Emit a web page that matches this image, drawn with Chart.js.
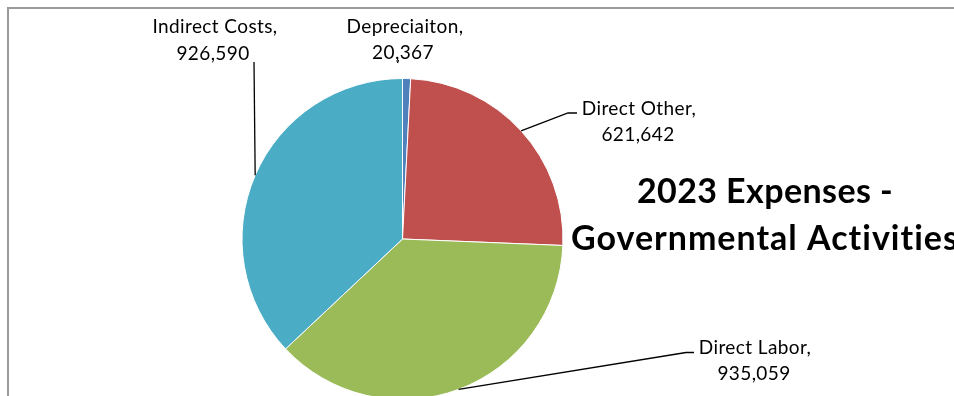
<!DOCTYPE html>
<html>
<head>
<meta charset="utf-8">
<script src="https://cdn.jsdelivr.net/npm/chart.js@4/dist/chart.umd.min.js"></script>
<style>
  html, body { margin: 0; padding: 0; background: #fff; overflow: hidden; }
  #wrap { width: 954px; height: 420px; }
</style>
</head>
<body>
<div id="wrap"><canvas id="c" width="954" height="420"></canvas></div>
<script>
// ---- data ----
const categories = ["Depreciaiton", "Direct Other", "Direct Labor", "Indirect Costs"];
const values = [20367, 621642, 935059, 926590];
const colors = ["#4F81BD", "#C0504D", "#9BBB59", "#4BACC6"];
const titleLines = ["2023 Expenses -", "Governmental Activities"];

// ---- layout (label placement) ----
const labelLayout = [
  { l1: [405, 33], l2: [403, 59], leader: "tick", pts: [[397.5, 63], [398.5, 60]] },
  { l1: [639, 115], l2: [638, 141], leader: "edge", pts: [[568, 113], [577, 113]] },
  { l1: [755, 354], l2: [754, 380], leader: "edge", pts: [[686, 352.5], [694, 352.5]] },
  { l1: [215, 32.5], l2: [213, 60], leader: "edge", pts: [[254, 62]] }
];

const fmt = v => v.toLocaleString("en-US");
const labelFont = '19px Lato, "Open Sans", sans-serif';
const titleFont = 'bold 34px Lato, "Open Sans", sans-serif';

const decor = {
  id: "decor",
  beforeDraw(chart) {
    const ctx = chart.ctx;
    ctx.save();
    ctx.fillStyle = "#ffffff";
    ctx.fillRect(0, 0, chart.width, chart.height);
    ctx.fillStyle = "#9a9a9a";
    ctx.fillRect(7, 7, chart.width - 7, 2);
    ctx.fillRect(7, 7, 2, chart.height - 7);
    ctx.restore();
  },
  afterDraw(chart) {
    const ctx = chart.ctx;
    const meta = chart.getDatasetMeta(0);
    ctx.save();
    // leader lines
    ctx.strokeStyle = "#000";
    ctx.lineWidth = 1.3;
    meta.data.forEach((arc, i) => {
      const L = labelLayout[i];
      const p = arc.getProps(["x", "y", "startAngle", "endAngle", "outerRadius"], true);
      ctx.beginPath();
      if (L.leader === "edge") {
        const mid = (p.startAngle + p.endAngle) / 2;
        ctx.moveTo(p.x + Math.cos(mid) * p.outerRadius, p.y + Math.sin(mid) * p.outerRadius);
        L.pts.forEach(pt => ctx.lineTo(pt[0], pt[1]));
      } else {
        ctx.moveTo(L.pts[0][0], L.pts[0][1]);
        ctx.lineTo(L.pts[1][0], L.pts[1][1]);
      }
      ctx.stroke();
    });
    // data labels
    ctx.fillStyle = "#000";
    ctx.font = labelFont;
    ctx.letterSpacing = "0.4px";
    ctx.textAlign = "center";
    ctx.textBaseline = "alphabetic";
    categories.forEach((cat, i) => {
      const L = labelLayout[i];
      ctx.fillText(cat + ",", L.l1[0], L.l1[1]);
      ctx.fillText(fmt(values[i]), L.l2[0], L.l2[1]);
    });
    // title
    ctx.font = titleFont;
    ctx.letterSpacing = "0.4px";
    ctx.fillText(titleLines[0], 765, 203);
    ctx.textAlign = "left";
    ctx.letterSpacing = "1px";
    ctx.fillText(titleLines[1], 571, 250);
    ctx.restore();
  }
};

new Chart(document.getElementById("c"), {
  type: "pie",
  data: {
    labels: categories,
    datasets: [{
      data: values,
      backgroundColor: colors,
      borderColor: "#ffffff",
      borderWidth: 1,
      hoverOffset: 0
    }]
  },
  options: {
    responsive: false,
    animation: false,
    events: [],
    layout: { padding: { top: 78, bottom: 20, left: 241.5, right: 390.5 } },
    plugins: { legend: { display: false }, tooltip: { enabled: false }, title: { display: false } }
  },
  plugins: [decor]
});
</script>
</body>
</html>
